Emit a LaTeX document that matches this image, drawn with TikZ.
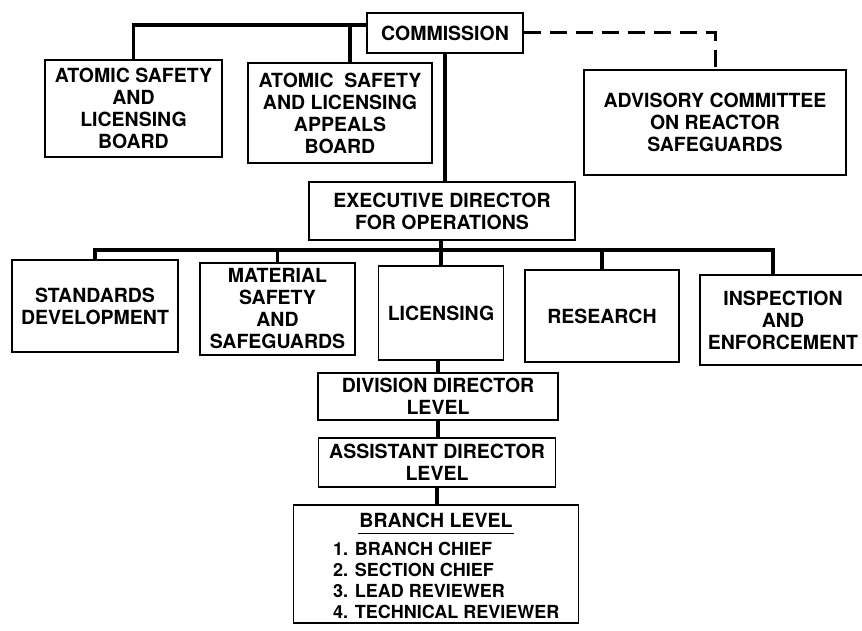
\documentclass[tikz,border=0pt]{standalone}
\usepackage{fontspec}
\setmainfont{TeX Gyre Heros}
\usetikzlibrary{positioning, calc}

\tikzset{
  orgbox/.style={draw, line width=1.8pt, align=center, inner sep=2pt,
    font=\bfseries\fontsize{19.5}{22}\selectfont},
  link/.style={line width=3.2pt},
  advisory/.style={line width=3pt, dash pattern=on 17pt off 9pt},
}

\begin{document}
\begin{tikzpicture}[x=1pt, y=-1pt]
    \fill[white] (0,0) rectangle (862,631);
    \useasboundingbox (0,0) rectangle (862,631);

    % --- Commission and boards ---
    \node[orgbox, minimum width=156pt, minimum height=40pt] (COM) at (445,33) {COMMISSION};
    \node[orgbox, minimum width=177pt, minimum height=97pt] (ASLB) at (133.5,108.5)
        {ATOMIC SAFETY\\AND\\LICENSING\\BOARD};
    \node[orgbox, minimum width=184pt, minimum height=100pt] (ASLAB) at (340,113)
        {ATOMIC\ \ SAFETY\\AND LICENSING\\APPEALS\\BOARD};
    \node[orgbox, minimum width=262pt, minimum height=105pt] (ACRS) at (715,122.5)
        {ADVISORY COMMITTEE\\ON REACTOR\\SAFEGUARDS};
    \coordinate (boardbus) at (350,25);

    \draw[link] (ASLB.north) |- (boardbus -| COM.west);
    \draw[link] (boardbus) -- (boardbus |- ASLAB.north);
    \draw[advisory] (COM.east) -| (ACRS.north);

    % --- Executive director and offices ---
    \node[orgbox, minimum width=266pt, minimum height=58pt] (EDO) at (442,211)
        {EXECUTIVE DIRECTOR\\FOR OPERATIONS};
    \draw[link] (COM.south) -- (COM.south |- EDO.north);

    \node[orgbox, minimum width=166pt, minimum height=92pt] (SD) at (95,306)
        {STANDARDS\\DEVELOPMENT};
    \node[orgbox, minimum width=155pt, minimum height=92pt] (MSS) at (277.5,309)
        {MATERIAL\\SAFETY\\AND\\SAFEGUARDS};
    \node[orgbox, minimum width=125pt, minimum height=94pt] (LIC) at (441,313) {LICENSING};
    \node[orgbox, minimum width=154pt, minimum height=92pt] (RES) at (602,316) {RESEARCH};
    \node[orgbox, minimum width=166pt, minimum height=90pt] (IE) at (783,320)
        {INSPECTION\\AND\\ENFORCEMENT};
    \coordinate (deptbus) at (441,250);

    \draw[link] (SD.north) |- (deptbus) -| ([xshift=-10pt]IE.north);
    \draw[link] (MSS.north) -- (MSS.north |- deptbus);
    \draw[link] (RES.north) -- (RES.north |- deptbus);
    \draw[link] (EDO.south -| LIC.north) -- (LIC.north);

    % --- Licensing chain ---
    \node[orgbox, minimum width=240pt, minimum height=47pt] (DDL) at (438,396.5)
        {DIVISION DIRECTOR\\LEVEL};
    \node[orgbox, minimum width=237pt, minimum height=49pt] (ADL) at (437,462.5)
        {ASSISTANT DIRECTOR\\LEVEL};
    \node[orgbox, minimum width=285pt, minimum height=118pt] (BR) at (436,564) {};
    \node[font=\bfseries\fontsize{19.5}{22}\selectfont, inner sep=1pt] (brtitle) at (436,520)
        {BRANCH LEVEL};
    \draw[line width=1.8pt] ([yshift=-5pt]brtitle.south west) -- ([yshift=-5pt]brtitle.south east);
    \node[font=\bfseries\fontsize{18}{21}\selectfont, align=left, anchor=west, inner sep=0pt]
        (brlist) at (333,580)
        {1. BRANCH CHIEF\\2. SECTION CHIEF\\3. LEAD REVIEWER\\4. TECHNICAL REVIEWER};

    \draw[link] (LIC.south -| DDL.north) -- (DDL.north);
    \draw[link] (DDL.south) -- (DDL.south |- ADL.north);
    \draw[link] (ADL.south) -- (ADL.south |- BR.north);
\end{tikzpicture}
\end{document}
